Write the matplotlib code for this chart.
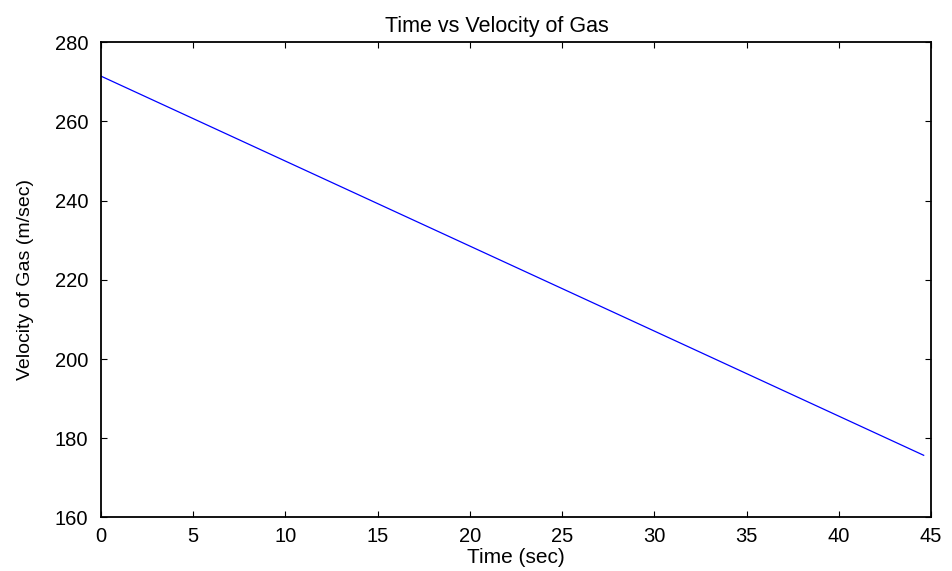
import matplotlib
matplotlib.use('Agg')
import matplotlib.pyplot as plt

# values
time_sec = [0, 10, 20, 30, 44.6]
velocity = [271.4, 249.95, 228.5, 207.05, 175.7]

x_ticks = [0, 5, 10, 15, 20, 25, 30, 35, 40, 45]
y_ticks = [160, 180, 200, 220, 240, 260, 280]

plt.rcParams['font.family'] = ['Liberation Sans', 'DejaVu Sans']

fig = plt.figure(figsize=(9.52, 5.71), dpi=100)
ax = fig.add_axes([0.106, 0.0937, 0.872, 0.8327])

ax.plot(time_sec, velocity, color='#0000ff', linewidth=0.9)

ax.set_xlim(0, 45)
ax.set_ylim(160, 280)
ax.set_xticks(x_ticks)
ax.set_yticks(y_ticks)
ax.tick_params(direction='in', top=True, right=True, length=4, width=0.8,
               labelsize=14.5, colors='black')
ax.tick_params(axis='x', pad=6.5)
ax.tick_params(axis='y', pad=9)
for s in ax.spines.values():
	s.set_linewidth(1.3)

ax.set_title('Time vs Velocity of Gas', fontsize=15.5, pad=7, x=0.477)
ax.set_xlabel('Time (sec)', fontsize=15, labelpad=2)
ax.set_ylabel('Velocity of Gas (m/sec)', fontsize=14, labelpad=15)

fig.savefig('out.png', dpi=100)
